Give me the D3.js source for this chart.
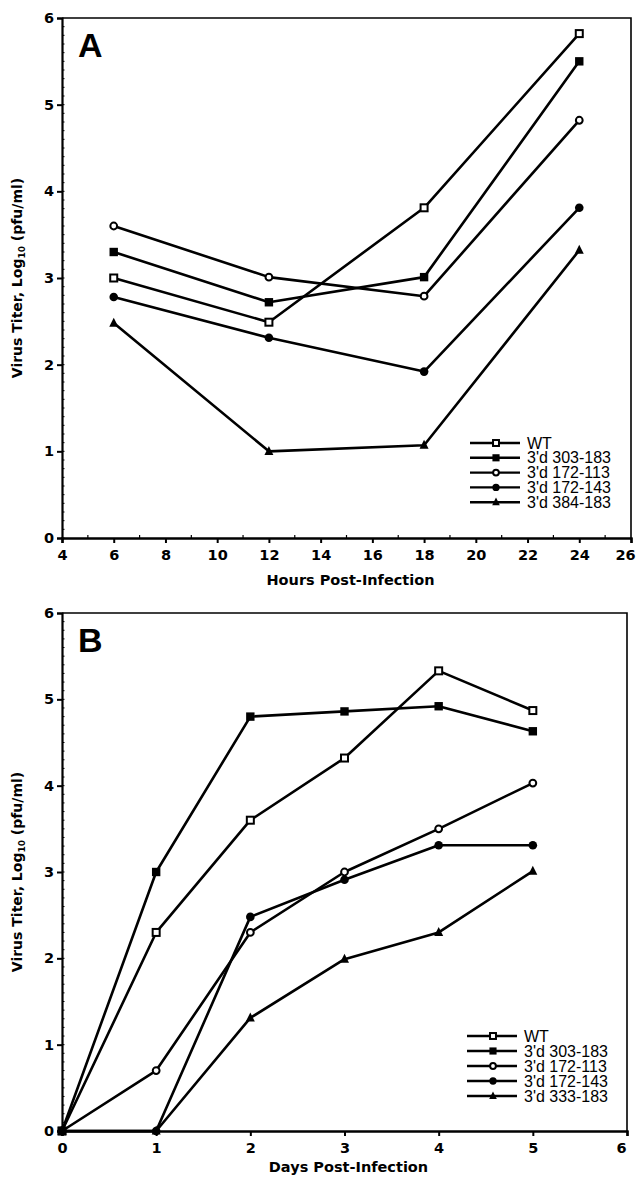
<!DOCTYPE html>
<html><head><meta charset="utf-8">
<script src="https://cdn.jsdelivr.net/npm/d3@7"></script>
<style>
body{margin:0;background:#fff;}
svg{display:block;}
</style></head>
<body><svg id="c" width="637" height="1179"></svg>
<script>
// ---- Data ----
const seriesNames = ["WT","3'd 303-183","3'd 172-113","3'd 172-143"];
const seriesNameA5 = "3'd 384-183";
const seriesNameB5 = "3'd 333-183";
const markerTypes = ["openSquare","filledSquare","openCircle","filledCircle","triangle"];

const hoursA = [6,12,18,24];
const wtA      = [3.0, 2.49, 3.81, 5.82];
const m303A    = [3.3, 2.72, 3.01, 5.5];
const m172_113A= [3.6, 3.01, 2.79, 4.82];
const m172_143A= [2.78, 2.31, 1.92, 3.81];
const m384A    = [2.48, 1.0, 1.07, 3.32];

const daysB = [0,1,2,3,4,5];
const wtB      = [0, 2.3, 3.6, 4.32, 5.33, 4.87];
const m303B    = [0, 3.0, 4.8, 4.86, 4.92, 4.63];
const m172_113B= [0, 0.7, 2.3, 3.0, 3.5, 4.03];
const m172_143B= [0, 0, 2.48, 2.91, 3.31, 3.31];
const m333B    = [0, 0, 1.31, 1.99, 2.3, 3.01];

const xTicksA = [4,6,8,10,12,14,16,18,20,22,24,26];
const xTicksB = [0,1,2,3,4,5,6];
const yTicks = [0,1,2,3,4,5,6];

const svg = d3.select("#c");
const tickFont = "'DejaVu Sans', sans-serif";

function marker(g, type, cx, cy, big) {
  const s = big ? 1 : 0.85;
  if (type === "openSquare") {
    g.append("rect").attr("x", cx-3.5*s).attr("y", cy-3.5*s).attr("width",7*s).attr("height",7*s)
      .attr("fill","#fff").attr("stroke","#000").attr("stroke-width",2);
  } else if (type === "filledSquare") {
    g.append("rect").attr("x", cx-4.2*s).attr("y", cy-4.2*s).attr("width",8.4*s).attr("height",8.4*s)
      .attr("fill","#000");
  } else if (type === "openCircle") {
    g.append("circle").attr("cx",cx).attr("cy",cy).attr("r",3.4*s)
      .attr("fill","#fff").attr("stroke","#000").attr("stroke-width",2);
  } else if (type === "filledCircle") {
    g.append("circle").attr("cx",cx).attr("cy",cy).attr("r",4.3*s).attr("fill","#000");
  } else {
    const h = 9*s, w = 9*s;
    g.append("path").attr("d", `M${cx},${cy-h*0.6}L${cx+w/2},${cy+h*0.4}L${cx-w/2},${cy+h*0.4}Z`).attr("fill","#000");
  }
}

function panel(cfg) {
  const g = svg.append("g");
  const x = d3.scaleLinear().domain(cfg.xDomain).range([cfg.left, cfg.right]);
  const y = d3.scaleLinear().domain([0,6]).range([cfg.bottom, cfg.top]);

  // frame top + right
  g.append("path").attr("d", `M${cfg.left},${cfg.top}H${cfg.right}V${cfg.bottom}`)
    .attr("fill","none").attr("stroke","#000").attr("stroke-width",1.6);

  // y minor ticks
  const yMinor = d3.range(0, 60).map(i => i/10);
  g.append("g").selectAll("line").data(yMinor).join("line")
    .attr("x1", cfg.left).attr("x2", cfg.left+2.5)
    .attr("y1", d=>y(d)).attr("y2", d=>y(d)).attr("stroke","#000").attr("stroke-width",1);

  // y axis
  const yAx = g.append("g").attr("transform", `translate(${cfg.left},0)`)
    .call(d3.axisLeft(y).tickValues(yTicks).tickFormat(d3.format("d")).tickSize(5).tickPadding(3));
  yAx.select(".domain").attr("stroke-width",2.2);
  yAx.selectAll(".tick line").attr("stroke-width",2);
  yAx.selectAll("text").attr("font-family", tickFont).attr("font-weight","bold").attr("font-size",14.5).attr("fill","#000");

  // x minor ticks
  if (cfg.xMinor) {
    g.append("g").selectAll("line").data(cfg.xMinor).join("line")
      .attr("x1", d=>x(d)).attr("x2", d=>x(d))
      .attr("y1", cfg.bottom).attr("y2", cfg.bottom-3).attr("stroke","#000").attr("stroke-width",1.2);
  }
  const xAx = g.append("g").attr("transform", `translate(0,${cfg.bottom})`)
    .call(d3.axisBottom(x).tickValues(cfg.xTicks).tickFormat(d3.format("d")).tickSize(5).tickPadding(7));
  xAx.select(".domain").attr("stroke-width",2.4);
  xAx.selectAll(".tick line").attr("stroke-width",2);
  xAx.selectAll("text").attr("font-family", tickFont).attr("font-weight","bold").attr("font-size",14.5).attr("fill","#000");
  // keep the last (edge) label inside the page
  xAx.selectAll(".tick text").filter(d => d === cfg.xDomain[1]).attr("dx", -6);

  // x title
  g.append("text").attr("x", (x(cfg.xDomain[0])+x(cfg.xDomain[1]))/2 + 4).attr("y", cfg.bottom+cfg.titleOff)
    .attr("text-anchor","middle").attr("font-family", tickFont).attr("font-weight","bold")
    .attr("font-size",14.5).attr("fill","#000").text(cfg.xTitle);

  // y title
  const yt = g.append("text").attr("transform", `translate(22,${(cfg.top+cfg.bottom)/2}) rotate(-90)`)
    .attr("text-anchor","middle").attr("font-family", tickFont).attr("font-weight","bold")
    .attr("font-size",14).attr("fill","#000");
  yt.append("tspan").text("Virus Titer, Log");
  yt.append("tspan").attr("font-size",9).attr("dy",3).text("10");
  yt.append("tspan").attr("dy",-3).text(" (pfu/ml)");

  // panel letter
  g.append("text").attr("x", cfg.left+16).attr("y", cfg.top+39)
    .attr("font-family","'Liberation Sans', Arial, sans-serif").attr("font-weight","bold")
    .attr("font-size",34).attr("fill","#000").text(cfg.letter);

  // lines
  const line = d3.line().x(d=>x(d[0])).y(d=>y(d[1]));
  cfg.series.forEach((s) => {
    const pts = cfg.xs.map((xv,i)=>[xv, s.values[i]]);
    g.append("path").attr("d", line(pts)).attr("fill","none").attr("stroke","#000")
      .attr("stroke-width",2.6).attr("stroke-linejoin","round");
  });
  cfg.series.forEach((s) => {
    cfg.xs.forEach((xv,i)=> marker(g, s.marker, x(xv), y(s.values[i]), true));
  });

  // legend
  cfg.series.forEach((s, i) => {
    const ly = cfg.legY + i*cfg.legStep;
    g.append("line").attr("x1", cfg.legX).attr("x2", cfg.legX+50).attr("y1", ly).attr("y2", ly)
      .attr("stroke","#000").attr("stroke-width",2.4);
    marker(g, s.marker, cfg.legX+26, ly, false);
    g.append("text").attr("x", cfg.legX+57).attr("y", ly+5.5)
      .attr("font-family","'Liberation Sans', Arial, sans-serif").attr("font-size",16)
      .attr("fill","#000").text(s.name);
  });
}

panel({
  letter:"A", xDomain:[4,26], left:62, right:631, top:18, bottom:538,
  xTicks:xTicksA, xMinor:d3.range(5,26,2), xs:hoursA, xTitle:"Hours Post-Infection", titleOff:47,
  legX:470, legY:443, legStep:14.8,
  series:[
    {name:seriesNames[0], values:wtA, marker:markerTypes[0]},
    {name:seriesNames[1], values:m303A, marker:markerTypes[1]},
    {name:seriesNames[2], values:m172_113A, marker:markerTypes[2]},
    {name:seriesNames[3], values:m172_143A, marker:markerTypes[3]},
    {name:seriesNameA5, values:m384A, marker:markerTypes[4]}
  ]
});

panel({
  letter:"B", xDomain:[0,6], left:62, right:627, top:613, bottom:1131,
  xTicks:xTicksB, xMinor:null, xs:daysB, xTitle:"Days Post-Infection", titleOff:41,
  legX:467, legY:1036, legStep:15,
  series:[
    {name:seriesNames[0], values:wtB, marker:markerTypes[0]},
    {name:seriesNames[1], values:m303B, marker:markerTypes[1]},
    {name:seriesNames[2], values:m172_113B, marker:markerTypes[2]},
    {name:seriesNames[3], values:m172_143B, marker:markerTypes[3]},
    {name:seriesNameB5, values:m333B, marker:markerTypes[4]}
  ]
});
</script></body></html>
